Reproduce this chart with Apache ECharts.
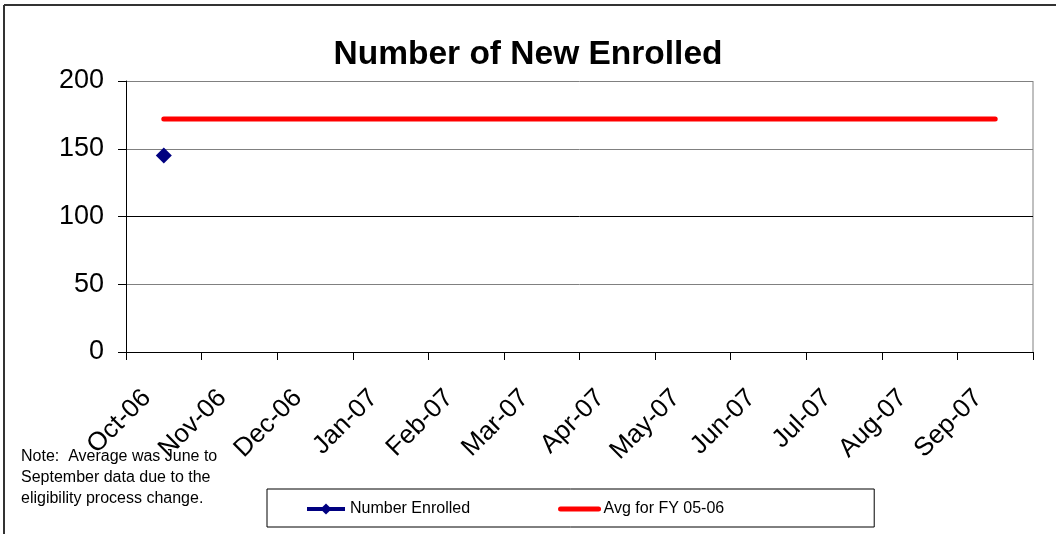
<!DOCTYPE html>
<html>
<head>
<meta charset="utf-8">
<script src="https://cdn.jsdelivr.net/npm/echarts@6/dist/echarts.min.js"></script>
<style>
  html, body { margin: 0; padding: 0; background: #fff; }
  #chart { width: 1056px; height: 534px; }
</style>
</head>
<body>
<div id="chart"></div>
<script>
// chart data
const months = ['Oct-06', 'Nov-06', 'Dec-06', 'Jan-07', 'Feb-07', 'Mar-07',
  'Apr-07', 'May-07', 'Jun-07', 'Jul-07', 'Aug-07', 'Sep-07']
const enrolled = [145, null, null, null, null, null, null, null, null, null, null, null]
const avgFY0506 = [172, 172, 172, 172, 172, 172, 172, 172, 172, 172, 172, 172]
const yTicks = [0, 50, 100, 150, 200]

const FONT = '"Liberation Sans", Arial, sans-serif'

const chart = echarts.init(document.getElementById('chart'))

chart.setOption({
  backgroundColor: '#fff',
  animation: false,
  title: {
    text: 'Number of New Enrolled',
    left: 'center',
    top: 33,
    textStyle: { fontFamily: FONT, fontSize: 33.5, fontWeight: 'bold', color: '#000' }
  },
  grid: { left: 126, right: 23, top: 81, bottom: 182, containLabel: false },
  legend: {
    left: 267,
    top: 489,
    orient: 'horizontal',
    padding: [12, 150, 10, 38],
    itemGap: 88,
    itemWidth: 38,
    itemHeight: 14,
    borderColor: '#000',
    borderWidth: 1,
    textStyle: { fontFamily: FONT, fontSize: 16, color: '#000' },
    data: [
      { name: 'Number Enrolled', lineStyle: { width: 4 } },
      { name: 'Avg for FY 05-06', lineStyle: { width: 5 }, itemStyle: { opacity: 0 } }
    ]
  },
  xAxis: {
    type: 'category',
    data: months,
    boundaryGap: true,
    axisLine: { lineStyle: { color: '#000', width: 1 } },
    axisTick: { show: true, length: 8, lineStyle: { color: '#000' } },
    axisLabel: {
      rotate: 45, fontFamily: FONT, fontSize: 26, color: '#000',
      margin: 25, padding: [0, 24, 0, 0], interval: 0
    },
    splitLine: { show: false }
  },
  yAxis: {
    type: 'value',
    min: yTicks[0],
    max: yTicks[yTicks.length - 1],
    interval: 50,
    axisLine: { show: true, lineStyle: { color: '#000', width: 1 } },
    axisTick: { show: true, length: 8, lineStyle: { color: '#000' } },
    axisLabel: { fontFamily: FONT, fontSize: 27, color: '#000', margin: 22 },
    splitLine: { show: true, lineStyle: { color: ['#808080', '#808080', '#000', '#808080', '#808080'], width: 1 } }
  },
  graphic: [
    // outer chart border (top and left)
    { type: 'line', shape: { x1: 4, y1: 5, x2: 1056, y2: 5 }, style: { stroke: '#333', lineWidth: 2 } },
    { type: 'line', shape: { x1: 4, y1: 5, x2: 4, y2: 534 }, style: { stroke: '#333', lineWidth: 2 } },
    // plot area right border
    { type: 'line', shape: { x1: 1033, y1: 81, x2: 1033, y2: 352 }, style: { stroke: '#808080', lineWidth: 1 } },
    {
      type: 'text',
      left: 21,
      top: 446,
      style: {
        text: 'Note:  Average was June to\nSeptember data due to the\neligibility process change.',
        font: '16px ' + FONT,
        lineHeight: 21,
        fill: '#000'
      }
    }
  ],
  series: [
    {
      name: 'Number Enrolled',
      type: 'line',
      data: enrolled,
      symbol: 'diamond',
      symbolSize: 16,
      color: '#000080',
      lineStyle: { width: 3, color: '#000080' },
      itemStyle: { color: '#000080' },
      z: 3
    },
    {
      name: 'Avg for FY 05-06',
      type: 'line',
      data: avgFY0506,
      showSymbol: false,
      color: '#ff0000',
      lineStyle: { width: 5, color: '#ff0000', cap: 'round' },
      z: 2
    }
  ]
})
</script>
</body>
</html>
